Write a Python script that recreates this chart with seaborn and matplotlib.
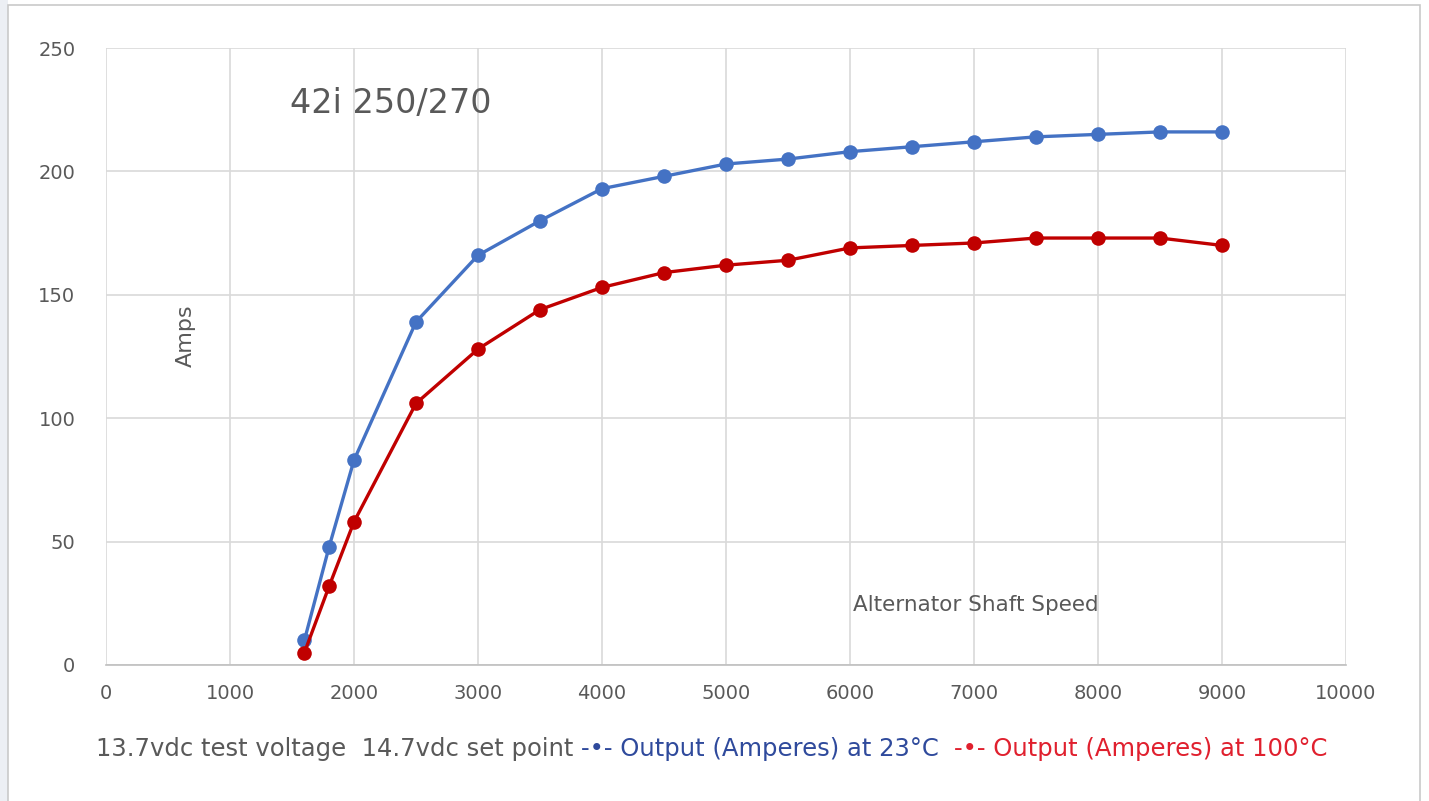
import numpy as np
import pandas as pd
import matplotlib
matplotlib.use("Agg")
import matplotlib.pyplot as plt
import seaborn as sns
from matplotlib.offsetbox import TextArea, HPacker, AnchoredOffsetbox
from matplotlib.patches import Rectangle

speed = [1600, 1800, 2000, 2500, 3000, 3500, 4000, 4500, 5000, 5500, 6000, 6500, 7000, 7500, 8000, 8500, 9000]
amps_23 = [10, 48, 83, 139, 166, 180, 193, 198, 203, 205, 208, 210, 212, 214, 215, 216, 216]
amps_100 = [5, 32, 58, 106, 128, 144, 153, 159, 162, 164, 169, 170, 171, 173, 173, 173, 170]
series_names = ["Output (Amperes) at 23°C", "Output (Amperes) at 100°C"]
x_ticks = list(range(0, 10001, 1000))
y_ticks = list(range(0, 251, 50))

df = pd.DataFrame({
    "speed": speed * 2,
    "amps": amps_23 + amps_100,
    "series": [series_names[0]] * len(speed) + [series_names[1]] * len(speed),
})

sns.set_theme(style="white")
plt.rcParams['font.family'] = ['DejaVu Sans']

fig = plt.figure(figsize=(14.29, 8.01), dpi=100)
fig.patch.set_facecolor("white")
# screenshot frame
fig.patches.append(Rectangle((0, 0), 8 / 1429, 1, transform=fig.transFigure, facecolor="#eceff4", edgecolor="none", zorder=-2))
fig.patches.append(Rectangle((8 / 1429, -0.01), 1412 / 1429, 796 / 801 + 0.01, transform=fig.transFigure,
                             facecolor="white", edgecolor="#c9c9c9", lw=1.2, zorder=-1))

ax = fig.add_axes([106 / 1429, 1 - 665 / 801, 1240 / 1429, 617 / 801])
palette = {series_names[0]: "#4472C4", series_names[1]: "#C00000"}
sns.lineplot(data=df, x="speed", y="amps", hue="series", palette=palette, marker="o",
             markersize=10.5, markeredgewidth=0, linewidth=2.4, ax=ax, legend=False)

ax.set_xlim(0, 10000)
ax.set_ylim(0, 250)
ax.set_xticks(x_ticks)
ax.set_yticks(y_ticks)
ax.set_xticklabels([str(t) for t in x_ticks])
ax.set_yticklabels([str(t) for t in y_ticks])
ax.grid(True, color="#d9d9d9", linewidth=1.2)
ax.set_axisbelow(True)
for s in ["top", "right", "left"]:
    ax.spines[s].set_visible(False)
ax.spines["bottom"].set_color("#bfbfbf")
ax.spines["bottom"].set_linewidth(1.2)
ax.tick_params(axis="both", length=0, labelsize=14, labelcolor="#595959")
ax.tick_params(axis="y", pad=22)
ax.tick_params(axis="x", pad=14)
ax.set_xlabel("")
ax.set_ylabel("")

fig.text(290 / 1429, 1 - 103 / 801, "42i 250/270", fontsize=24,
         color="#595959", ha="left", va="center")
fig.text(186 / 1429, 1 - 336 / 801, "Amps", rotation=90, fontsize=16, color="#595959",
         ha="center", va="center")
fig.text(976 / 1429, 1 - 605 / 801, "Alternator Shaft Speed", fontsize=15.5, color="#595959",
         ha="center", va="center")

parts = [
    ("13.7vdc test voltage  14.7vdc set point ", "#595959"),
    ("-•- " + series_names[0] + "  ", "#2F4A9C"),
    ("-•- " + series_names[1], "#E0202E"),
]
boxes = [TextArea(t, textprops=dict(color=c, fontsize=17.5)) for t, c in parts]
pack = HPacker(children=boxes, align="baseline", pad=0, sep=0)
anch = AnchoredOffsetbox(loc="center left", child=pack, frameon=False,
                         bbox_to_anchor=(96 / 1429, 1 - 749 / 801), bbox_transform=fig.transFigure,
                         borderpad=0, pad=0)
fig.add_artist(anch)

fig.savefig("out.png", dpi=100)
